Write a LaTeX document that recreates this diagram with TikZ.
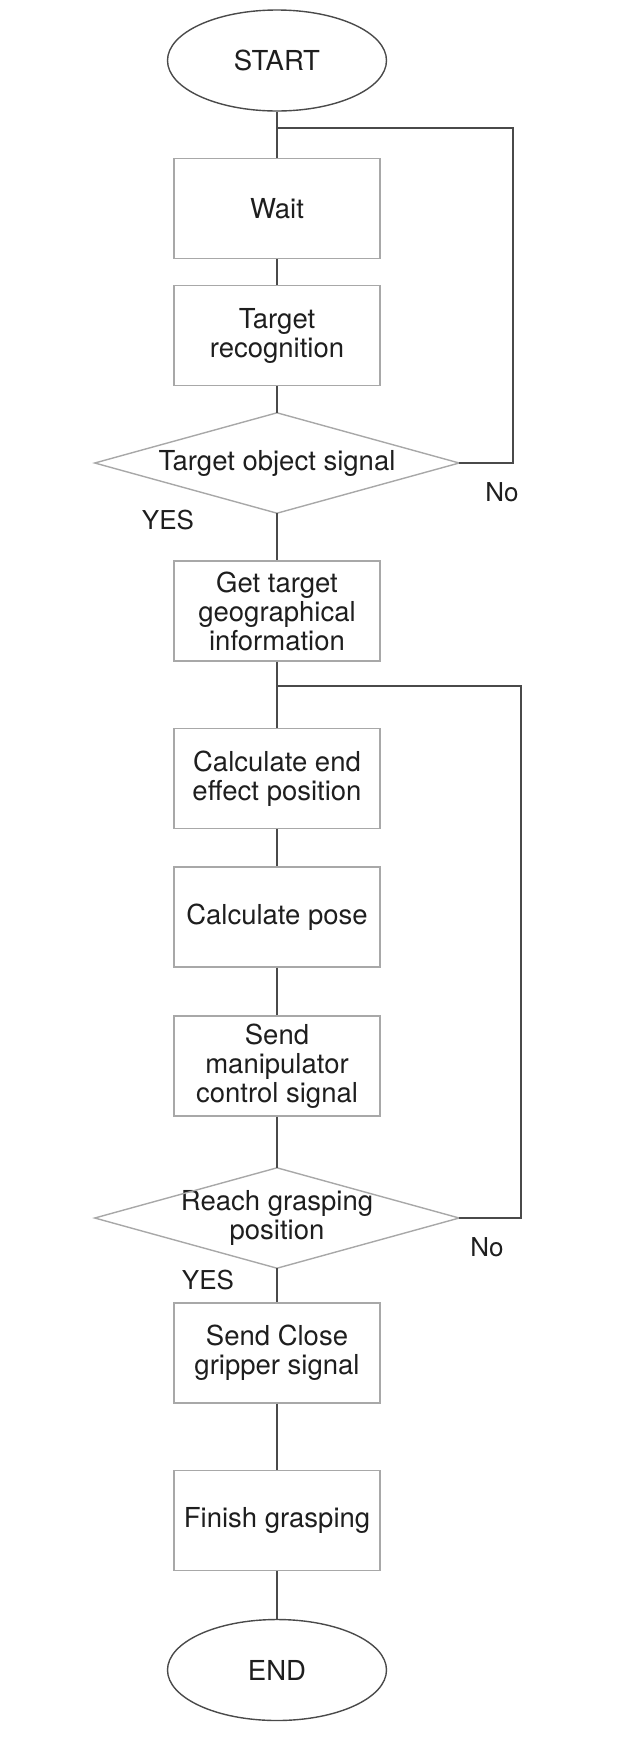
\documentclass[tikz,border=0pt]{standalone}
\usepackage{fontspec}
\setmainfont{TeX Gyre Heros}
\usetikzlibrary{shapes.geometric}
\definecolor{boxline}{HTML}{A8A8A8}
\definecolor{darkline}{HTML}{4A4A4A}
\definecolor{txt}{HTML}{1E1E1E}
\begin{document}
\begin{tikzpicture}[x=1pt,y=-1pt,
  every node/.style={font=\fontsize{27.5}{29}\selectfont, text=txt, align=center},
  term/.style={draw=darkline, line width=1.4pt, ellipse, minimum width=219pt, minimum height=101pt, inner sep=0pt},
  procbox/.style={draw=boxline, line width=1.4pt, rectangle, minimum width=206pt, minimum height=100pt, inner sep=0pt},
  decide/.style={rectangle, minimum width=364pt, minimum height=100pt, inner sep=0pt},
  decideline/.style={draw=boxline, line width=1.4pt, line join=miter},
  conn/.style={draw=darkline, line width=1.6pt},
  lbl/.style={font=\fontsize{26}{29}\selectfont}]
\useasboundingbox (0,0) rectangle (638,1754);
\node[term] (start) at (277,60.5) {START};
\node[procbox] (wait) at (277,208.5) {Wait};
\node[procbox] (recog) at (277,335.5) {Target\\recognition};
\node[decide] (d1) at (277,463) {Target object signal};
\draw[decideline] (d1.west) -- (d1.north) -- (d1.east) -- (d1.south) -- cycle;
\node[procbox] (geo) at (277,611) {Get target\\geographical\\information};
\node[procbox] (calcend) at (277,778.5) {Calculate end\\effect position};
\node[procbox] (pose) at (277,917) {Calculate pose};
\node[procbox] (send) at (277,1066) {Send\\manipulator\\control signal};
\node[decide] (d2) at (277,1218) {Reach grasping\\position};
\draw[decideline] (d2.west) -- (d2.north) -- (d2.east) -- (d2.south) -- cycle;
\node[procbox] (close) at (277,1353) {Send Close\\gripper signal};
\node[procbox] (finish) at (277,1520.5) {Finish grasping};
\node[term] (end) at (277,1670) {END};
\coordinate (j1) at (277,128);
\coordinate (r1a) at (513,128);
\coordinate (r1b) at (513,463);
\coordinate (j2) at (277,686);
\coordinate (r2a) at (521,686);
\coordinate (r2b) at (521,1218);
\draw[conn] (start) -- (wait);
\draw[conn] (wait) -- (recog);
\draw[conn] (recog) -- (d1);
\draw[conn] (d1) -- (geo);
\draw[conn] (d1.east) -- (r1b) -- (r1a) -- (j1);
\draw[conn] (geo) -- (calcend);
\draw[conn] (calcend) -- (pose);
\draw[conn] (pose) -- (send);
\draw[conn] (send) -- (d2);
\draw[conn] (d2.east) -- (r2b) -- (r2a) -- (j2);
\draw[conn] (d2) -- (close);
\draw[conn] (close) -- (finish);
\draw[conn] (finish) -- (end);
\node[lbl] (no1) at (502,492) {No};
\node[lbl] (yes1) at (168,520) {YES};
\node[lbl] (no2) at (487,1247) {No};
\node[lbl] (yes2) at (208,1280) {YES};
\end{tikzpicture}
\end{document}
